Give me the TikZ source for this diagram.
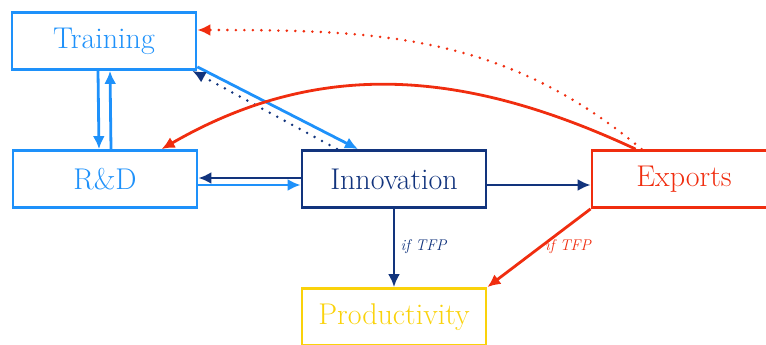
\documentclass[tikz,border=0pt]{standalone}
\usetikzlibrary{arrows.meta}
\definecolor{lb}{RGB}{30,145,250}
\definecolor{nv}{RGB}{18,52,125}
\definecolor{rd}{RGB}{240,45,15}
\definecolor{yl}{RGB}{250,210,10}
\tikzset{
  box/.style={draw, line width=2.8pt, minimum width=184pt, minimum height=57pt, inner sep=0pt, font=\fontsize{30}{34}\selectfont},
  arr/.style={line width=2.8pt, -{Latex[length=13pt,width=12pt]}},
  dots/.style={line cap=round, dash pattern=on 0pt off 8.5pt},
  lab/.style={font=\fontsize{15.5}{18}\selectfont\itshape}
}
\begin{document}
\begin{tikzpicture}[x=1pt,y=-1pt]
\useasboundingbox (0,0) rectangle (766,345);
\node[box, lb, text=lb] (tr) at (104,41) {Training};
\node[box, lb, text=lb] (rdd) at (105,179) {R\&D};
\node[box, nv, text=nv] (inn) at (394,179) {Innovation};
\node[box, rd, text=rd] (ex) at (684,179) {Exports};
\node[box, yl, text=yl] (pr) at (394,317) {Productivity};

\draw[arr, lb] ([xshift=-6pt]tr.south) -- ([xshift=-6pt]rdd.north);
\draw[arr, lb] ([xshift=6pt]rdd.north) -- ([xshift=6pt]tr.south);
\draw[arr, lb] ([yshift=4pt]tr.south east) -- ([xshift=-36pt]inn.north);
\draw[arr, nv, dots] ([xshift=-57pt]inn.north) -- ([xshift=-5pt]tr.south east);
\draw[arr, nv] ([yshift=1pt]inn.west) -- ([yshift=1pt]rdd.east);
\draw[arr, lb] ([yshift=-6pt]rdd.east) -- ([yshift=-6pt]inn.west);
\draw[arr, nv] ([yshift=-6pt]inn.east) -- ([yshift=-6pt]ex.west);
\draw[arr, nv] (inn.south) -- node[lab, text=nv, right=2pt, pos=0.48] {if TFP} (pr.north);
\draw[arr, rd] (ex.south west) -- (pr.north east);
\node[lab, text=rd] (lbl2) at (568,247) {if TFP};
\draw[arr, rd] ([xshift=45pt]ex.north west) to[out=155, in=30] ([xshift=150pt]rdd.north west);
\draw[arr, rd, dots] ([xshift=51pt]ex.north west) to[out=140, in=0] ([yshift=11pt]tr.east);
\end{tikzpicture}
\end{document}
